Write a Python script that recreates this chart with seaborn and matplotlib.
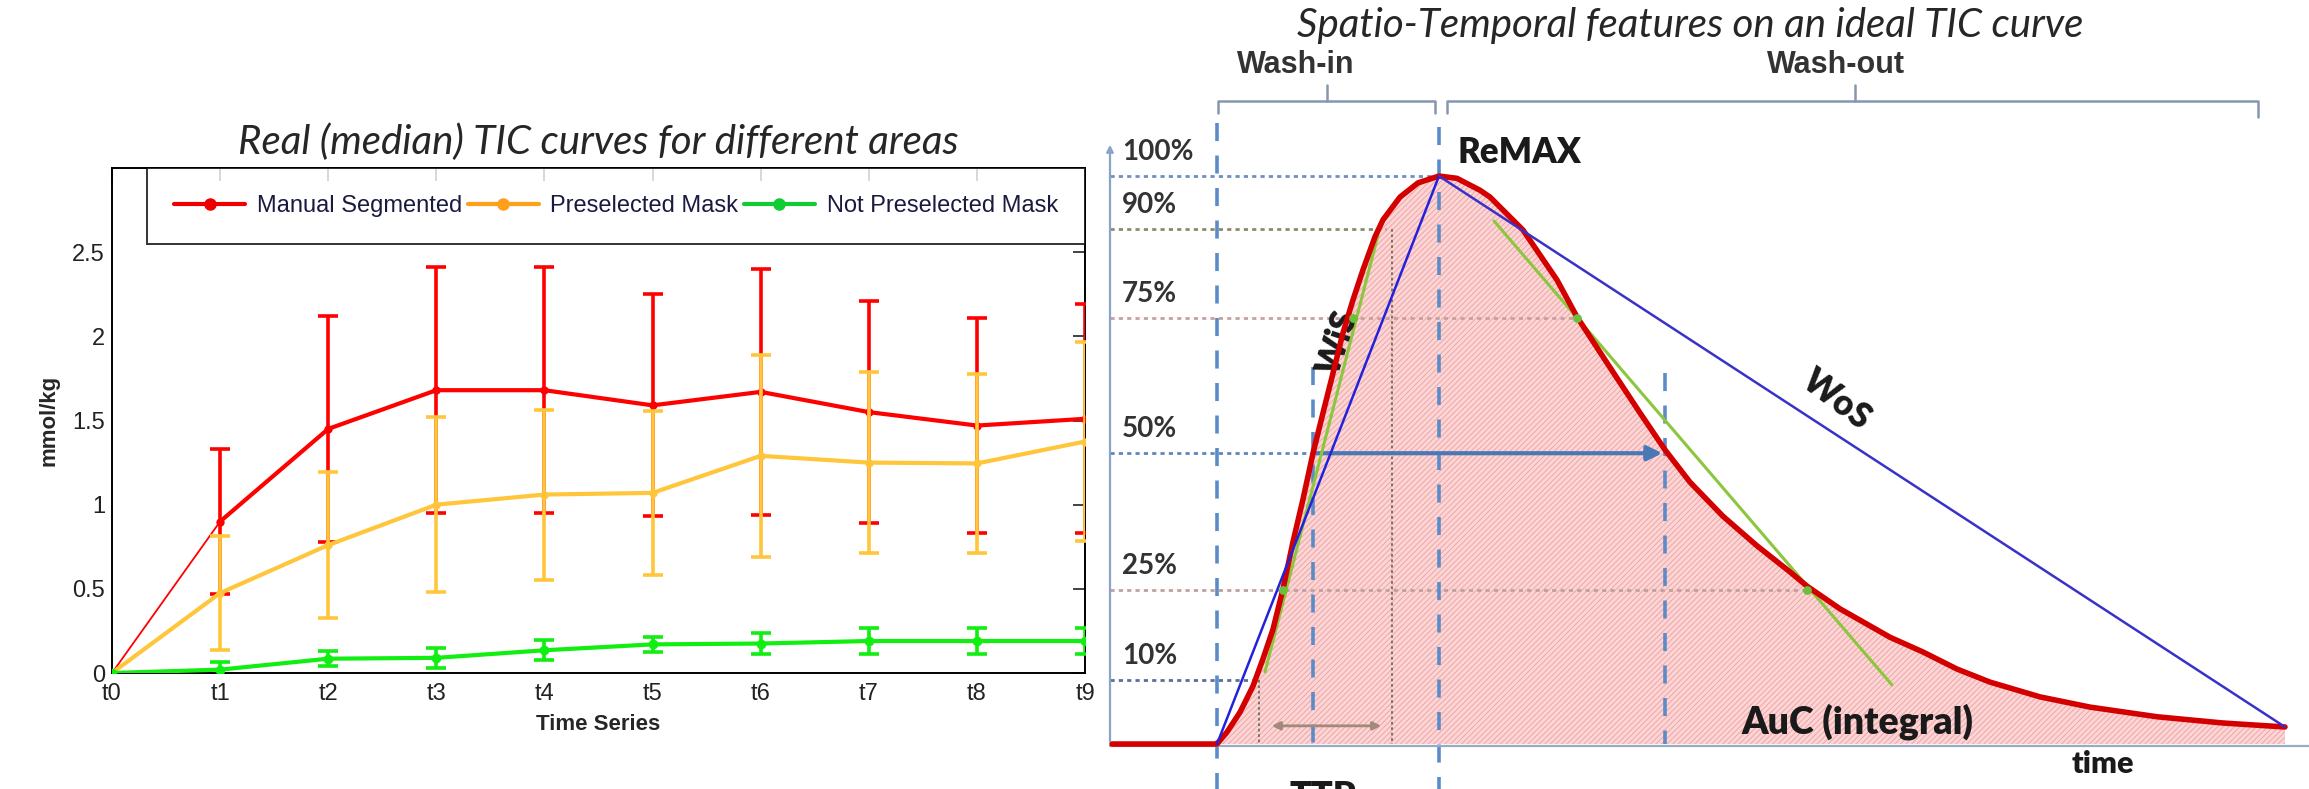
import numpy as np
import pandas as pd
import matplotlib
matplotlib.use('Agg')
import matplotlib.pyplot as plt
import seaborn as sns
from matplotlib.lines import Line2D

# ---- left panel: real (median) TIC curves ----
time_labels = ['t0', 't1', 't2', 't3', 't4', 't5', 't6', 't7', 't8', 't9']
manual_seg = [0, 0.90, 1.45, 1.68, 1.68, 1.59, 1.67, 1.55, 1.47, 1.51]
manual_err = [0, 0.43, 0.67, 0.73, 0.73, 0.66, 0.73, 0.66, 0.64, 0.68]
presel_mask = [0, 0.475, 0.76, 1.00, 1.06, 1.07, 1.29, 1.25, 1.245, 1.375]
presel_err = [0, 0.34, 0.435, 0.52, 0.505, 0.485, 0.60, 0.54, 0.53, 0.59]
notsel_mask = [0, 0.02, 0.085, 0.09, 0.135, 0.17, 0.175, 0.19, 0.19, 0.19]
notsel_err = [0, 0.045, 0.045, 0.06, 0.06, 0.045, 0.065, 0.08, 0.08, 0.08]

# ---- right panel: ideal TIC curve (x: time units, y: % of peak) ----
curve_x = [0.2, 10.7, 11.7, 13.0, 14.3, 15.3, 16.3, 17.3, 18.3, 19.3, 20.3, 21.3, 22.3,
           23.3, 24.3, 25.3, 26.5, 27.3, 29.0, 30.8, 32.9, 34.7, 37.0, 38.0, 41.3, 44.7,
           46.7, 49.7, 53.0, 55.5, 58.0, 61.3, 64.7, 68.0, 69.7, 73.0, 78.0, 81.3, 84.7,
           88.0, 93.0, 98.0, 104.7, 111.3, 117.5]
curve_y = [0, 0, 2.1, 5.6, 10.2, 15.0, 20.2, 27.3, 35.6, 43.1, 51.2, 58.3, 65.3,
           72.4, 78.2, 83.5, 89.3, 92.3, 96.3, 98.8, 100, 99.6, 97.5, 96.3, 90.5, 81.7,
           75.2, 67.1, 58.3, 51.8, 46.1, 40.1, 34.9, 30.3, 27.8, 23.8, 18.8, 16.2, 13.2,
           10.9, 8.3, 6.5, 4.8, 3.7, 3.0]
level_labels = ['100%', '90%', '75%', '50%', '25%', '10%']
level_y = [100, 90.7, 75.0, 51.2, 27.1, 11.3]
level_end = [32.9, 27.6, 46.7, 20.3, 69.7, 14.9]
level_colors = ['#6f8fbf', '#8c8c6c', '#c9a0a0', '#5f86bf', '#c0a0a0', '#5c6f96']
onset_x, peak_x, end_x = 10.7, 32.9, 117.5
half_rise_x, half_fall_x = 20.3, 55.5
ttp_x = [14.9, 28.2]
ttp_top = [11.3, 90.7]
tangent_pts_x = [17.3, 24.3, 46.7, 69.7]
tangent_pts_y = [27.1, 75.0, 75.0, 27.1]
wis_line_x, wis_line_y = [15.5, 26.8], [12.7, 89.6]
wos_tan_x, wos_tan_y = [38.4, 78.2], [92.1, 10.4]

sns.set_theme(style='white')
plt.rcParams['font.family'] = ['Liberation Sans', 'DejaVu Sans']
plt.rcParams['hatch.linewidth'] = 0.7

W, H = 2309, 789
fig = plt.figure(figsize=(W / 100, H / 100), dpi=100)

# ================= left panel =================
ax = fig.add_axes([112 / W, 1 - 673 / H, (1085 - 112) / W, (673 - 168) / H])
df = pd.DataFrame({'t': np.arange(10), 'manual': manual_seg,
                   'presel': presel_mask, 'notsel': notsel_mask})

red, gold, green = '#ff0000', '#ffc63c', '#11ee11'

ax.plot(df['t'][:2], df['manual'][:2], color=red, lw=1.3, zorder=3)
sns.lineplot(data=df.iloc[1:], x='t', y='manual', color=red, lw=3, marker='o',
             markersize=6, markeredgewidth=0, ax=ax, zorder=3)
ax.errorbar(df['t'][1:], df['manual'][1:], yerr=manual_err[1:], fmt='none',
            ecolor=red, elinewidth=2.6, capsize=7, capthick=2.6, zorder=3)

sns.lineplot(data=df, x='t', y='presel', color=gold, lw=3, marker='o',
             markersize=6, markeredgewidth=0, ax=ax, zorder=4)
ax.errorbar(df['t'][1:], df['presel'][1:], yerr=presel_err[1:], fmt='none',
            ecolor=gold, elinewidth=2.6, capsize=7, capthick=2.6, zorder=4)

sns.lineplot(data=df, x='t', y='notsel', color=green, lw=3, marker='o',
             markersize=7, markeredgewidth=0, ax=ax, zorder=5)
ax.errorbar(df['t'][1:], df['notsel'][1:], yerr=notsel_err[1:], fmt='none',
            ecolor=green, elinewidth=2.6, capsize=7, capthick=2.6, zorder=5)

ax.set_xlim(0, 9)
ax.set_ylim(0, 3)
ax.set_xticks(range(10))
ax.set_xticklabels(time_labels)
ax.set_yticks([0, 0.5, 1, 1.5, 2, 2.5])
ax.set_yticklabels(['0', '0.5', '1', '1.5', '2', '2.5'])
ax.tick_params(direction='in', length=9, width=1.2, top=True, right=True,
               labelsize=17, colors='#222222', pad=5)
ax.tick_params(axis='x', pad=7)
for s in ax.spines.values():
    s.set_color('black')
    s.set_linewidth(1.4)
ax.set_xlabel('Time Series', fontsize=16, fontweight='bold')
ax.set_ylabel('mmol/kg', fontsize=16, fontweight='bold')
ax.xaxis.label.set_verticalalignment('center')
ax.yaxis.label.set_verticalalignment('center')
ax.xaxis.set_label_coords(0.5, (673 - 724) / 505)
ax.yaxis.set_label_coords((49 - 112) / 973, 0.5)
ax.set_title('Real (median) TIC curves for different areas', fontsize=29,
             fontstyle='italic', family=['Lato', 'DejaVu Sans'], pad=10)

handles = [Line2D([], [], color='#ee0000', lw=3, marker='o', markersize=8),
           Line2D([], [], color='#ff9f1a', lw=3, marker='o', markersize=8),
           Line2D([], [], color='#11cc33', lw=3, marker='o', markersize=8)]
leg = ax.legend(handles, ['Manual Segmented', 'Preselected Mask', 'Not Preselected Mask'],
                loc='upper left', bbox_to_anchor=(35 / 973, 0, 1 - 35 / 973, 1.0),
                mode='expand', ncol=3, fontsize=17, frameon=True, fancybox=False,
                borderpad=1.15, handlelength=3.0, handletextpad=0.5, columnspacing=0.7,
                borderaxespad=0)
leg.get_frame().set_edgecolor('black')
leg.get_frame().set_linewidth(1.4)
for t in leg.get_texts():
    t.set_color('#1a1a40')

# ================= right panel =================
bx = fig.add_axes([1090 / W, 0, (W - 1090) / W, 1])
bx.set_xlim(-2.0, 119.9)
bx.set_ylim(-7.92, 131.0)
bx.axis('off')

dash_blue = '#5b8cc8'
bold_font = ['Lato', 'DejaVu Sans']

bx.fill_between(curve_x[1:], curve_y[1:], 0, facecolor='#fcd6d6', edgecolor='#f0a4a4',
                hatch='//////', linewidth=0, zorder=1)

# level lines and labels
for lab, ly, le, lc in zip(level_labels, level_y, level_end, level_colors):
    bx.plot([0, le], [ly, ly], color=lc, lw=2, ls=(0, (1.5, 1.5)), zorder=2)
    bx.annotate(lab, (1.2, ly), xytext=(0, 8), textcoords='offset points',
                ha='left', va='bottom', fontsize=20, fontweight='bold',
                color='#333333', family=bold_font)

# vertical guides
bx.plot([onset_x, onset_x], [109.3, -9], color=dash_blue, lw=2.6, ls=(0, (5, 4)), zorder=2, clip_on=False)
bx.plot([peak_x, peak_x], [108.6, -9], color=dash_blue, lw=2.6, ls=(0, (5, 4)), zorder=2, clip_on=False)
bx.plot([half_rise_x, half_rise_x], [66.4, 0], color=dash_blue, lw=2.6, ls=(0, (5, 4)), zorder=2)
bx.plot([half_fall_x, half_fall_x], [65.3, 0], color=dash_blue, lw=2.6, ls=(0, (5, 4)), zorder=2)
for tx, tt in zip(ttp_x, ttp_top):
    bx.plot([tx, tx], [tt, 0], color='#6e6e5a', lw=1.3, ls=(0, (1.5, 1.5)), zorder=2)

# axes of the sketch
bx.annotate('', xy=(0, 106), xytext=(0, 0),
            arrowprops=dict(arrowstyle='-|>', color='#8aa4c8', lw=1.6, mutation_scale=10))
bx.plot([0, 119.9], [-0.3, -0.3], color='#9aaac4', lw=1.6, zorder=2)

# half-width arrow and TTP arrow
bx.annotate('', xy=(half_fall_x, level_y[3]), xytext=(half_rise_x, level_y[3]),
            arrowprops=dict(arrowstyle='-|>', color='#4a78b5', lw=3, mutation_scale=22))
bx.annotate('', xy=(27.4, 3.2), xytext=(15.9, 3.2),
            arrowprops=dict(arrowstyle='<|-|>', color='#a28a7a', lw=2, mutation_scale=12))

# curve, slopes, tangents
bx.plot(wis_line_x, wis_line_y, color='#8cc63f', lw=2.2, zorder=3)
bx.plot(wos_tan_x, wos_tan_y, color='#8cc63f', lw=2.2, zorder=3)
sns.lineplot(x=curve_x, y=curve_y, sort=False, color='#d40000', lw=4, ax=bx, zorder=4)
bx.plot([onset_x, peak_x], [0, 100], color='#2222dd', lw=1.8, zorder=5)
bx.plot([peak_x, end_x], [100, curve_y[-1]], color='#3a32c8', lw=1.8, zorder=5)
bx.scatter(tangent_pts_x, tangent_pts_y, s=40, color='#6cbf3a', zorder=6, linewidths=0)

# brackets
br_col = '#8696ae'
bx.plot([10.8, 10.8, 32.5, 32.5], [111.1, 113.2, 113.2, 111.1], color=br_col, lw=1.8)
bx.plot([21.7, 21.7], [113.2, 116.0], color=br_col, lw=1.8)
bx.plot([33.7, 33.7, 114.8, 114.8], [111.1, 113.2, 113.2, 110.4], color=br_col, lw=1.8)
bx.plot([74.5, 74.5], [113.2, 116.0], color=br_col, lw=1.8)
bx.text(18.6, 119.5, 'Wash-in', ha='center', va='center', fontsize=22,
        fontweight='bold', color='#333333', family=['Liberation Sans', 'DejaVu Sans'])
bx.text(72.6, 119.5, 'Wash-out', ha='center', va='center', fontsize=22,
        fontweight='bold', color='#333333', family=['Liberation Sans', 'DejaVu Sans'])

# annotations
bx.text(34.7, 104.2, 'ReMAX', ha='left', va='center', fontsize=25, fontweight='heavy',
        color='#1a1a1a', family=bold_font)
bx.text(22.8, 70.6, 'WiS', ha='center', va='center', rotation=72, fontsize=25,
        fontweight='heavy', color='#1a1a1a', family=bold_font)
bx.text(72.7, 60.6, 'WoS', ha='center', va='center', rotation=-37, fontsize=25,
        fontweight='heavy', color='#1a1a1a', family=bold_font)
bx.text(74.7, 4.0, 'AuC (integral)', ha='center', va='center', fontsize=27,
        fontweight='heavy', color='#1a1a1a', family=bold_font)
bx.text(99.3, -3.5, 'time', ha='center', va='center', fontsize=22, fontweight='heavy',
        color='#1a1a1a', family=bold_font)
bx.text(21.3, -6.4, 'TTP', ha='center', va='top', fontsize=26, fontweight='heavy',
        color='#1a1a1a', family=bold_font)

fig.text(1690 / W, 1 - 25 / H, 'Spatio-Temporal features on an ideal TIC curve',
         ha='center', va='center', fontsize=29, fontstyle='italic',
         family=['Lato', 'DejaVu Sans'])

fig.savefig('out.png', dpi=100)
